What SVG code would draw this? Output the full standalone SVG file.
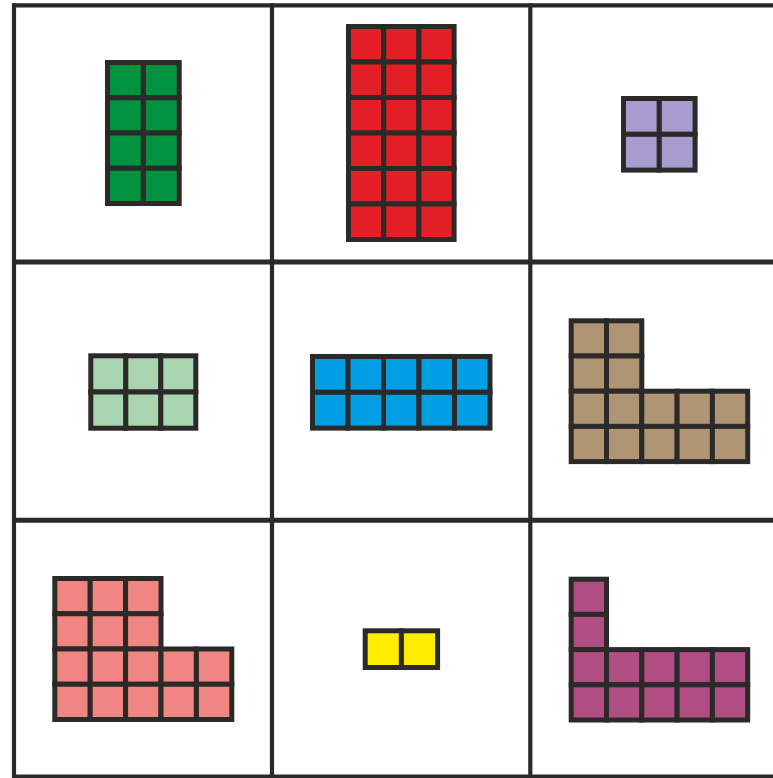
<svg xmlns="http://www.w3.org/2000/svg" width="773" height="778" viewBox="0 0 773 778">
<style>
.g{stroke:#2b2a29;fill:none}
.c{stroke:#2b2a29;stroke-width:5;stroke-linejoin:miter}
.green{fill:#00923f}.red{fill:#e31e24}.purple{fill:#a89bd0}.lgreen{fill:#a8d5b0}.blue{fill:#009fe3}.brown{fill:#b09574}.pink{fill:#f08681}.yellow{fill:#ffed00}.magenta{fill:#b04d83}
</style>
<rect width="773" height="778" fill="#fff"/>
<g id="grid" class="g">
<line x1="12" y1="5.3" x2="773" y2="5.3" stroke-width="4.2"/>
<line x1="12" y1="262" x2="773" y2="262" stroke-width="5"/>
<line x1="12" y1="520.3" x2="773" y2="520.3" stroke-width="5"/>
<line x1="12" y1="776.5" x2="773" y2="776.5" stroke-width="4.2"/>
<line x1="14" y1="3.3" x2="14" y2="778" stroke-width="4.2"/>
<line x1="272" y1="3.3" x2="272" y2="778" stroke-width="4.2"/>
<line x1="530.3" y1="3.3" x2="530.3" y2="778" stroke-width="4.2"/>
</g>
<g id="green" class="c green">
<rect x="107.5" y="62.5" width="35.85" height="35.25"/><rect x="143.35" y="62.5" width="35.85" height="35.25"/>
<rect x="107.5" y="97.75" width="35.85" height="35.25"/><rect x="143.35" y="97.75" width="35.85" height="35.25"/>
<rect x="107.5" y="133" width="35.85" height="35.25"/><rect x="143.35" y="133" width="35.85" height="35.25"/>
<rect x="107.5" y="168.25" width="35.85" height="35.25"/><rect x="143.35" y="168.25" width="35.85" height="35.25"/>
</g>
<g id="red" class="c red">
<rect x="348.5" y="26.5" width="35.2" height="35.5"/><rect x="383.7" y="26.5" width="35.2" height="35.5"/><rect x="418.9" y="26.5" width="35.2" height="35.5"/>
<rect x="348.5" y="62" width="35.2" height="35.5"/><rect x="383.7" y="62" width="35.2" height="35.5"/><rect x="418.9" y="62" width="35.2" height="35.5"/>
<rect x="348.5" y="97.5" width="35.2" height="35.5"/><rect x="383.7" y="97.5" width="35.2" height="35.5"/><rect x="418.9" y="97.5" width="35.2" height="35.5"/>
<rect x="348.5" y="133" width="35.2" height="35.5"/><rect x="383.7" y="133" width="35.2" height="35.5"/><rect x="418.9" y="133" width="35.2" height="35.5"/>
<rect x="348.5" y="168.5" width="35.2" height="35.5"/><rect x="383.7" y="168.5" width="35.2" height="35.5"/><rect x="418.9" y="168.5" width="35.2" height="35.5"/>
<rect x="348.5" y="204" width="35.2" height="35.5"/><rect x="383.7" y="204" width="35.2" height="35.5"/><rect x="418.9" y="204" width="35.2" height="35.5"/>
</g>
<g id="purple" class="c purple">
<rect x="623.5" y="98.5" width="35.8" height="35.8"/><rect x="659.3" y="98.5" width="35.8" height="35.8"/>
<rect x="623.5" y="134.3" width="35.8" height="35.8"/><rect x="659.3" y="134.3" width="35.8" height="35.8"/>
</g>
<g id="lightgreen" class="c lgreen">
<rect x="90.8" y="355.8" width="35" height="36.2"/><rect x="125.8" y="355.8" width="35" height="36.2"/><rect x="160.8" y="355.8" width="35" height="36.2"/>
<rect x="90.8" y="392" width="35" height="36.2"/><rect x="125.8" y="392" width="35" height="36.2"/><rect x="160.8" y="392" width="35" height="36.2"/>
</g>
<g id="blue" class="c blue">
<rect x="312.5" y="356.5" width="35.5" height="35.8"/><rect x="348" y="356.5" width="35.5" height="35.8"/><rect x="383.5" y="356.5" width="35.5" height="35.8"/><rect x="419" y="356.5" width="35.5" height="35.8"/><rect x="454.5" y="356.5" width="35.5" height="35.8"/>
<rect x="312.5" y="392.3" width="35.5" height="35.8"/><rect x="348" y="392.3" width="35.5" height="35.8"/><rect x="383.5" y="392.3" width="35.5" height="35.8"/><rect x="419" y="392.3" width="35.5" height="35.8"/><rect x="454.5" y="392.3" width="35.5" height="35.8"/>
</g>
<g id="brown" class="c brown">
<rect x="571.2" y="320.8" width="35.3" height="35.2"/><rect x="606.5" y="320.8" width="35.3" height="35.2"/>
<rect x="571.2" y="356" width="35.3" height="35.2"/><rect x="606.5" y="356" width="35.3" height="35.2"/>
<rect x="571.2" y="391.2" width="35.3" height="35.2"/><rect x="606.5" y="391.2" width="35.3" height="35.2"/><rect x="641.8" y="391.2" width="35.3" height="35.2"/><rect x="677.1" y="391.2" width="35.3" height="35.2"/><rect x="712.4" y="391.2" width="35.3" height="35.2"/>
<rect x="571.2" y="426.4" width="35.3" height="35.2"/><rect x="606.5" y="426.4" width="35.3" height="35.2"/><rect x="641.8" y="426.4" width="35.3" height="35.2"/><rect x="677.1" y="426.4" width="35.3" height="35.2"/><rect x="712.4" y="426.4" width="35.3" height="35.2"/>
</g>
<g id="pink" class="c pink">
<rect x="54.8" y="578.5" width="35.4" height="35.25"/><rect x="90.2" y="578.5" width="35.4" height="35.25"/><rect x="125.6" y="578.5" width="35.4" height="35.25"/>
<rect x="54.8" y="613.75" width="35.4" height="35.25"/><rect x="90.2" y="613.75" width="35.4" height="35.25"/><rect x="125.6" y="613.75" width="35.4" height="35.25"/>
<rect x="54.8" y="649" width="35.4" height="35.25"/><rect x="90.2" y="649" width="35.4" height="35.25"/><rect x="125.6" y="649" width="35.4" height="35.25"/><rect x="161" y="649" width="35.4" height="35.25"/><rect x="196.4" y="649" width="35.4" height="35.25"/>
<rect x="54.8" y="684.25" width="35.4" height="35.25"/><rect x="90.2" y="684.25" width="35.4" height="35.25"/><rect x="125.6" y="684.25" width="35.4" height="35.25"/><rect x="161" y="684.25" width="35.4" height="35.25"/><rect x="196.4" y="684.25" width="35.4" height="35.25"/>
</g>
<g id="yellow" class="c yellow">
<rect x="365.2" y="630.8" width="36.2" height="36.7"/><rect x="401.4" y="630.8" width="36.2" height="36.7"/>
</g>
<g id="magenta" class="c magenta">
<rect x="571.2" y="579.2" width="35.3" height="35.2"/>
<rect x="571.2" y="614.4" width="35.3" height="35.2"/>
<rect x="571.2" y="649.6" width="35.3" height="35.2"/><rect x="606.5" y="649.6" width="35.3" height="35.2"/><rect x="641.8" y="649.6" width="35.3" height="35.2"/><rect x="677.1" y="649.6" width="35.3" height="35.2"/><rect x="712.4" y="649.6" width="35.3" height="35.2"/>
<rect x="571.2" y="684.8" width="35.3" height="35.2"/><rect x="606.5" y="684.8" width="35.3" height="35.2"/><rect x="641.8" y="684.8" width="35.3" height="35.2"/><rect x="677.1" y="684.8" width="35.3" height="35.2"/><rect x="712.4" y="684.8" width="35.3" height="35.2"/>
</g>
</svg>
